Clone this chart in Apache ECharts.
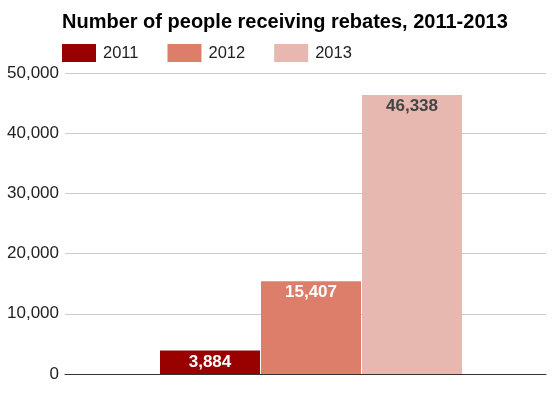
<!DOCTYPE html>
<html lang="en">
<head>
  <meta charset="UTF-8">
  <title>Rebates 2011-2013</title>
  <script src="https://cdn.jsdelivr.net/npm/echarts@6/dist/echarts.min.js"></script>
</head>
<body>
  <style>
    html, body, #chart {
      width: 100%;
      height: 100%;
      margin: 0;
      padding: 0;
      background: #fff;
    }
  </style>
  <div id="chart"></div>
  <script>
    const years = ['2011', '2012', '2013']
    const values = [3884, 15407, 46338]
    const colors = ['#990000', '#dd7e6b', '#e6b8af']
    const labelColors = ['#fff', '#fff', '#444']

    const font = 'Liberation Sans, Arial, sans-serif'
    const chart = echarts.init(document.getElementById('chart'))

    const series = years.map((year, i) => ({
      name: year,
      type: 'bar',
      xAxisIndex: 1,
      yAxisIndex: 1,
      barWidth: 100,
      barGap: '1%',
      itemStyle: { color: colors[i] },
      label: {
        show: true,
        position: 'insideTop',
        distance: 3,
        fontFamily: font,
        fontWeight: 'bold',
        fontSize: 17,
        color: labelColors[i],
        formatter: p => p.value.toLocaleString('en-US')
      },
      data: [values[i]]
    }))

    chart.setOption({
      animation: false,
      title: {
        text: 'Number of people receiving rebates, 2011-2013',
        left: 62,
        top: 12,
        padding: 0,
        textStyle: { fontFamily: font, fontSize: 20, fontWeight: 'bold', color: '#000' }
      },
      legend: {
        left: 62,
        top: 44,
        padding: 0,
        itemWidth: 34,
        itemHeight: 18,
        itemGap: 29,
        icon: 'rect',
        textStyle: { fontFamily: font, fontSize: 16.5, color: '#222', padding: [0, 0, 0, 2] },
        data: years
      },
      grid: [
        { left: 65, right: 6, top: 73, bottom: 24 },
        { left: 76, right: 6, top: 73, bottom: 24 }
      ],
      xAxis: [
        {
          gridIndex: 0,
          type: 'category',
          data: [''],
          axisLine: { lineStyle: { color: '#333', width: 1 } },
          axisTick: { show: false },
          axisLabel: { show: false }
        },
        {
          gridIndex: 1,
          type: 'category',
          data: [''],
          show: false
        }
      ],
      yAxis: [
        {
          gridIndex: 0,
          type: 'value',
          min: 0,
          max: 50000,
          interval: 10000,
          axisLine: { show: false },
          axisTick: { show: false },
          splitLine: { lineStyle: { color: '#ccc' } },
          axisLabel: {
            fontFamily: font,
            fontSize: 17,
            color: '#222',
            margin: 6,
            formatter: v => v.toLocaleString('en-US')
          }
        },
        {
          gridIndex: 1,
          type: 'value',
          min: 0,
          max: 50000,
          show: false
        }
      ],
      series
    })
  </script>
</body>
</html>
